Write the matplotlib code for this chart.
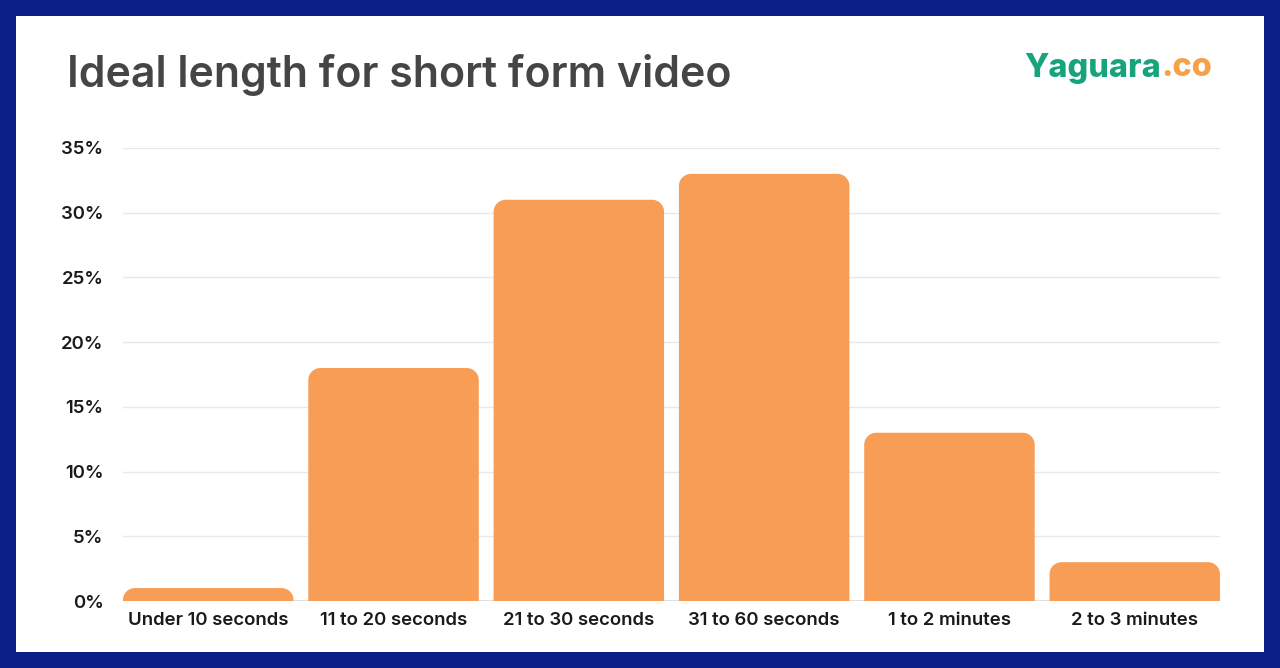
import matplotlib
matplotlib.use("Agg")
import matplotlib.pyplot as plt
from matplotlib.path import Path
from matplotlib.patches import PathPatch, Rectangle

categories = ["Under 10 seconds", "11 to 20 seconds", "21 to 30 seconds",
              "31 to 60 seconds", "1 to 2 minutes", "2 to 3 minutes"]
values = [1, 18, 31, 33, 13, 3]
yticks = [0, 5, 10, 15, 20, 25, 30, 35]
ytick_labels = [f"{v}%" for v in yticks]

W, H = 1280, 668
fig = plt.figure(figsize=(W / 100, H / 100), dpi=100)
fig.patch.set_facecolor("#0B1F87")

# white panel
fig.add_artist(Rectangle((16 / W, 16 / H), (1264 - 16) / W, (652 - 16) / H,
                         transform=fig.transFigure, facecolor="white",
                         edgecolor="none", zorder=0))

left, right, bottom, top = 123, 1220, 601, 148
ax = fig.add_axes([left / W, 1 - bottom / H, (right - left) / W, (bottom - top) / H])
ax.set_facecolor("none")
bw = 0.92
ax.set_xlim(-bw / 2, len(values) - 1 + bw / 2)
ax.set_ylim(0, 35)

px_x = (right - left) / (len(values) - 1 + bw)
px_y = (bottom - top) / 35.0
r = 12
rx, ry = r / px_x, r / px_y
k = 0.5523

for i, v in enumerate(values):
    x0, x1 = i - bw / 2, i + bw / 2
    ryy = min(ry, v * 0.9)
    verts = [(x0, 0), (x0, v - ryy),
             (x0, v - ryy + k * ryy), (x0 + rx - k * rx, v), (x0 + rx, v),
             (x1 - rx, v),
             (x1 - rx + k * rx, v), (x1, v - ryy + k * ryy), (x1, v - ryy),
             (x1, 0), (x0, 0)]
    codes = [Path.MOVETO, Path.LINETO,
             Path.CURVE4, Path.CURVE4, Path.CURVE4,
             Path.LINETO,
             Path.CURVE4, Path.CURVE4, Path.CURVE4,
             Path.LINETO, Path.CLOSEPOLY]
    ax.add_patch(PathPatch(Path(verts, codes), facecolor="#F79D56",
                           edgecolor="none", zorder=3))

for s in ax.spines.values():
    s.set_visible(False)
ax.set_yticks(yticks)
ax.set_yticklabels(ytick_labels)
ax.grid(axis="y", color="#E9E9E9", linewidth=1, zorder=0)
ax.axhline(0, color="#DDDDDD", linewidth=2, zorder=2)
ax.set_xticks(range(len(categories)))
ax.set_xticklabels(categories)
ax.tick_params(axis="both", length=0, labelsize=13.4, labelcolor="#1A1A1A")
ax.tick_params(axis="y", pad=14)
ax.tick_params(axis="x", pad=8)
for lab in ax.get_xticklabels() + ax.get_yticklabels():
    lab.set_fontfamily("Inter")
    lab.set_fontweight("semibold")

fig.text(67 / W, 1 - 75 / H, "Ideal length for short form video", fontsize=30.8,
         fontfamily="Inter", fontweight="semibold", color="#454545",
         ha="left", va="center")

t1 = fig.text(1024 / W, 1 - 68 / H, "Yaguara", fontsize=23.3, fontfamily="Inter",
              fontweight="heavy", color="#17A37B", ha="left", va="center")
fig.canvas.draw()
bb = t1.get_window_extent()
fig.text(bb.x1 / W, 1 - 68 / H, ".co", fontsize=23.3, fontfamily="Inter",
         fontweight="heavy", color="#F7A045", ha="left", va="center")

fig.savefig("out.png", dpi=100, facecolor=fig.get_facecolor())
